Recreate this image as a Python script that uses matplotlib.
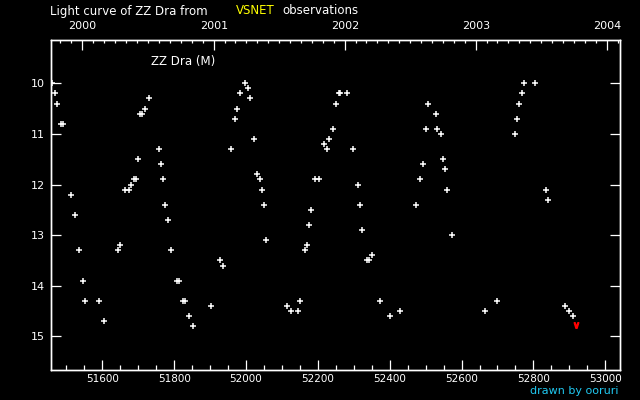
import numpy as np
import matplotlib.pyplot as plt
from datetime import date

# ZZ Dra visual estimates (MJD, magnitude)
mjd = [51459, 51469, 51474, 51486, 51491, 51513, 51524, 51536, 51547, 51552,
       51591, 51605, 51644, 51650, 51664, 51675, 51680, 51689, 51694, 51700,
       51705, 51711, 51719, 51730, 51758, 51764, 51769, 51775, 51783, 51792,
       51808, 51814, 51825, 51831, 51842, 51853, 51903, 51928, 51936, 51959,
       51970, 51975, 51984, 51998, 52006, 52012, 52023, 52031, 52039, 52045,
       52050, 52056, 52114, 52126, 52145, 52151, 52165, 52170, 52176, 52181,
       52192, 52204, 52217, 52226, 52231, 52243, 52251, 52259, 52262, 52281,
       52298, 52312, 52318, 52323, 52337, 52343, 52351, 52373, 52401, 52429,
       52473, 52484, 52493, 52501, 52507, 52529, 52532, 52543, 52549, 52554,
       52560, 52574, 52666, 52699, 52749, 52755, 52760, 52769, 52774, 52805,
       52835, 52841, 52888, 52899, 52911]
mag = [10.0, 10.2, 10.4, 10.8, 10.8, 12.2, 12.6, 13.3, 13.9, 14.3,
       14.3, 14.7, 13.3, 13.2, 12.1, 12.1, 12.0, 11.9, 11.9, 11.5,
       10.6, 10.6, 10.5, 10.3, 11.3, 11.6, 11.9, 12.4, 12.7, 13.3,
       13.9, 13.9, 14.3, 14.3, 14.6, 14.8, 14.4, 13.5, 13.6, 11.3,
       10.7, 10.5, 10.2, 10.0, 10.1, 10.3, 11.1, 11.8, 11.9, 12.1,
       12.4, 13.1, 14.4, 14.5, 14.5, 14.3, 13.3, 13.2, 12.8, 12.5,
       11.9, 11.9, 11.2, 11.3, 11.1, 10.9, 10.4, 10.2, 10.2, 10.2,
       11.3, 12.0, 12.4, 12.9, 13.5, 13.5, 13.4, 14.3, 14.6, 14.5,
       12.4, 11.9, 11.6, 10.9, 10.4, 10.6, 10.9, 11.0, 11.5, 11.7,
       12.1, 13.0, 14.5, 14.3, 11.0, 10.7, 10.4, 10.2, 10.0, 10.0,
       12.1, 12.3, 14.4, 14.5, 14.6]

# fainter-than estimate
faint_mjd = [52919]
faint_mag = [14.78]

mjd_ticks = [51600, 51800, 52000, 52200, 52400, 52600, 52800, 53000]
mag_ticks = [10, 11, 12, 13, 14, 15]
years = [2000, 2001, 2002, 2003, 2004]


def to_mjd(d):
    return (d - date(1858, 11, 17)).days


fig = plt.figure(figsize=(6.4, 4), dpi=100, facecolor='black')
ax = fig.add_axes([0.0792, 0.0743, 0.890, 0.825], facecolor='black')

ax.plot(mjd, mag, '+', color='white', ms=4, mew=1.1)
ax.plot(faint_mjd, faint_mag, marker=r'$\vee$', ls='none', color='red', ms=4)

ax.set_xlim(51456, 53042)
ax.set_ylim(15.67, 9.15)
ax.set_xticks(mjd_ticks)
ax.set_xticks(np.arange(51500, 53001, 50), minor=True)
ax.set_yticks(mag_ticks)

for s in ax.spines.values():
    s.set_color('white')
    s.set_linewidth(1)
ax.tick_params(axis='both', which='major', direction='in', colors='white',
               labelsize=7.5, length=7, width=0.9)
ax.tick_params(axis='x', which='major', pad=2.5)
ax.tick_params(axis='x', which='minor', direction='in', color='white',
               length=3.6, width=0.9)
ax.tick_params(axis='y', which='both', right=True, pad=4, labelsize=8)
ax.tick_params(axis='x', which='both', top=False)

# calendar years on top
ax2 = ax.twiny()
ax2.set_xlim(ax.get_xlim())
ax2.set_xticks([to_mjd(date(y, 1, 1)) for y in years])
ax2.set_xticklabels([str(y) for y in years])
months = [to_mjd(date(y, m, 1)) for y in range(1999, 2005) for m in range(2, 13)]
months = [m for m in months if 51456 < m < 53042]
ax2.set_xticks(months, minor=True)
ax2.tick_params(axis='x', which='major', direction='in', colors='white',
                labelsize=8, length=7, width=0.9, pad=6.5)
ax2.tick_params(axis='x', which='minor', direction='in', color='white',
                length=2.2, width=0.9)
for s in ax2.spines.values():
    s.set_color('white')
    s.set_linewidth(1)

fig.text(0.078, 0.9725, 'Light curve of ZZ Dra from', color='white',
         fontsize=8.5, va='center')
fig.text(0.369, 0.9725, 'VSNET', color='yellow', fontsize=8.5, va='center')
fig.text(0.441, 0.9725, 'observations', color='white', fontsize=8.5, va='center')
fig.text(0.236, 0.8475, 'ZZ Dra (M)', color='white', fontsize=8.5, va='center')
fig.text(0.966, 0.0225, 'drawn by ooruri', color='#20c8f0', fontsize=8,
         va='center', ha='right')

fig.savefig('out.png', dpi=100, facecolor='black')
